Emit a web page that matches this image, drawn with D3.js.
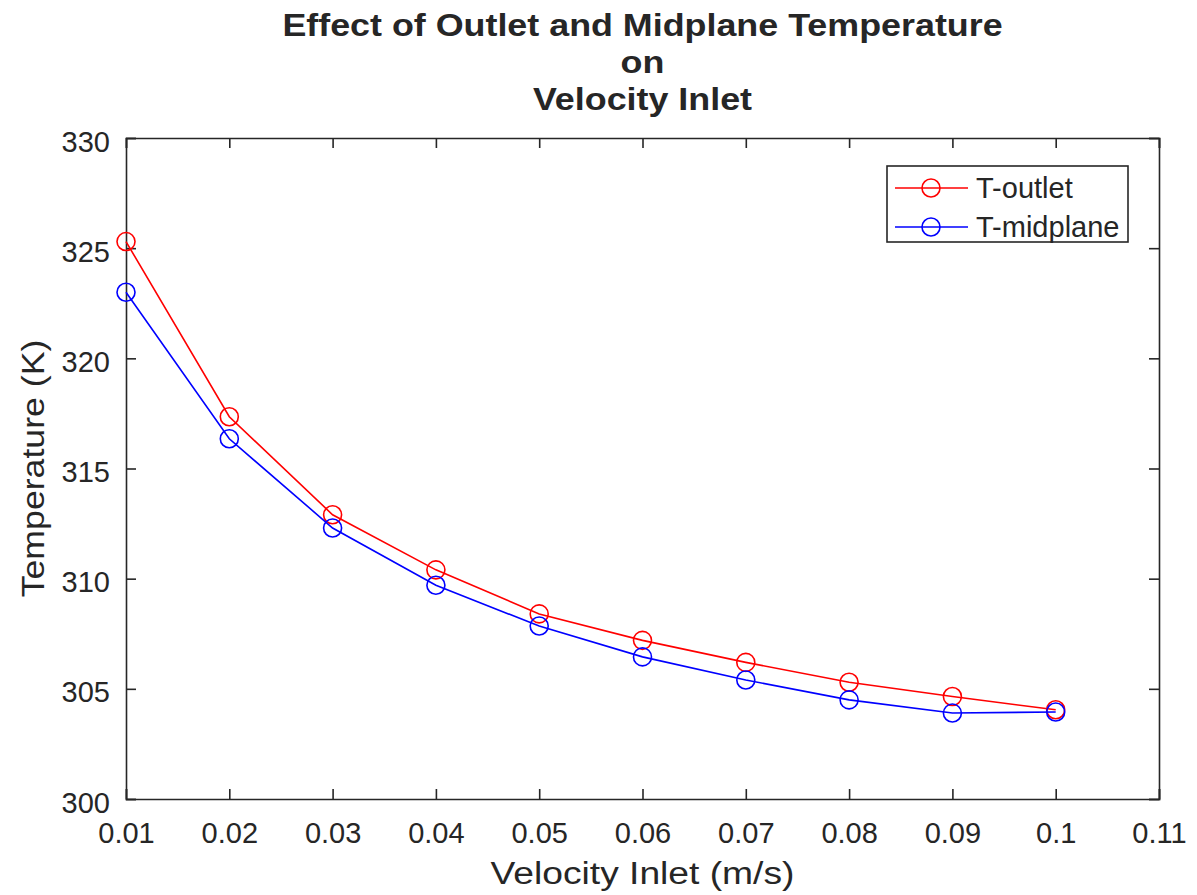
<!DOCTYPE html>
<html>
<head>
<meta charset="utf-8">
<script src="https://cdn.jsdelivr.net/npm/d3@7"></script>
<style>
  body { margin: 0; background: #fff; }
  svg text { font-family: "Liberation Sans", Arial, Helvetica, sans-serif; fill: #262626; }
</style>
</head>
<body>
<svg id="chart" width="1197" height="895"></svg>
<script>
// Values.
const velocity = [0.01, 0.02, 0.03, 0.04, 0.05, 0.06, 0.07, 0.08, 0.09, 0.1];
const tOutlet = [325.3, 317.35, 312.9, 310.4, 308.4, 307.2, 306.2, 305.3, 304.65, 304.05];
const tMidplane = [323.0, 316.35, 312.3, 309.7, 307.85, 306.45, 305.4, 304.5, 303.9, 303.95];
const xTicks = [0.01, 0.02, 0.03, 0.04, 0.05, 0.06, 0.07, 0.08, 0.09, 0.1, 0.11];
const yTicks = [300, 305, 310, 315, 320, 325, 330];
const titleLines = ["Effect of Outlet and Midplane Temperature", "on", "Velocity Inlet"];

const series = [
    {name: "T-outlet", values: tOutlet, color: "#ff0000"},
    {name: "T-midplane", values: tMidplane, color: "#0000ff"}
];

// Plot box.
const box = {left: 126, right: 1159, top: 138, bottom: 799};

let svg = d3.select("#chart");

let x = d3.scaleLinear().domain([0.01, 0.11]).range([box.left, box.right]);
let y = d3.scaleLinear().domain([300, 330]).range([box.bottom, box.top]);

const axisColor = "#262626";
const tickLen = 10;

// The picture's text runs a bit wider than the font here, so stretch it.
function stretch(sel, k) {
    sel.each(function() {
        let len = this.getComputedTextLength();
        d3.select(this)
            .attr("textLength", len * k)
            .attr("lengthAdjust", "spacingAndGlyphs");
    });
}

// Axes, MATLAB style: ticks inside, box on all four sides.
let xAxis = svg.append("g")
    .attr("transform", `translate(0,${box.bottom})`)
    .call(d3.axisBottom(x).tickValues(xTicks).tickSize(-tickLen).tickPadding(tickLen + 13)
        .tickFormat(d => d3.format("")(+d.toFixed(2))));
let yAxis = svg.append("g")
    .attr("transform", `translate(${box.left},0)`)
    .call(d3.axisLeft(y).tickValues(yTicks).tickSize(-tickLen).tickPadding(tickLen + 6));
let xTop = svg.append("g")
    .attr("transform", `translate(0,${box.top})`)
    .call(d3.axisTop(x).tickValues(xTicks).tickSize(-tickLen).tickFormat(""));
let yRight = svg.append("g")
    .attr("transform", `translate(${box.right},0)`)
    .call(d3.axisRight(y).tickValues(yTicks).tickSize(-tickLen).tickFormat(""));

[xAxis, yAxis, xTop, yRight].forEach(g => {
    g.select(".domain").attr("stroke", axisColor).attr("stroke-width", 1.6);
    g.selectAll(".tick line").attr("stroke", axisColor).attr("stroke-width", 1.6);
    g.selectAll(".tick text").attr("font-size", 29).attr("fill", axisColor);
});
yAxis.selectAll(".tick text").attr("dy", "0.45em");

// Lines and open circle markers.
let line = d3.line()
    .x((d, i) => x(velocity[i]))
    .y(d => y(d));

series.forEach(s => {
    let g = svg.append("g");
    g.append("path")
        .attr("d", line(s.values))
        .attr("fill", "none")
        .attr("stroke", s.color)
        .attr("stroke-width", 1.6);
    g.selectAll("circle")
        .data(s.values)
        .enter().append("circle")
        .attr("cx", (d, i) => x(velocity[i]))
        .attr("cy", d => y(d))
        .attr("r", 9)
        .attr("fill", "none")
        .attr("stroke", s.color)
        .attr("stroke-width", 1.6);
});

// Legend in the top right corner.
let legend = svg.append("g").attr("transform", "translate(887,166)");
legend.append("rect")
    .attr("width", 241).attr("height", 76)
    .attr("fill", "#fff")
    .attr("stroke", axisColor).attr("stroke-width", 1.6);
series.forEach((s, i) => {
    let row = legend.append("g").attr("transform", `translate(0,${22 + i * 39})`);
    row.append("line")
        .attr("x1", 8).attr("x2", 81)
        .attr("stroke", s.color).attr("stroke-width", 1.6);
    row.append("circle")
        .attr("cx", 44).attr("r", 9)
        .attr("fill", "none").attr("stroke", s.color).attr("stroke-width", 1.6);
    row.append("text")
        .attr("x", 89).attr("dy", "0.35em")
        .attr("font-size", 29)
        .text(s.name);
});

// Title and axis labels.
svg.append("g").selectAll("text")
    .data(titleLines)
    .enter().append("text")
    .attr("x", (box.left + box.right) / 2)
    .attr("y", (d, i) => 36 + i * 37)
    .attr("text-anchor", "middle")
    .attr("font-weight", "bold")
    .attr("font-size", 32)
    .attr("fill", "#000")
    .text(d => d)
    .call(stretch, 1.12);

svg.append("text")
    .attr("x", (box.left + box.right) / 2)
    .attr("y", 884)
    .attr("text-anchor", "middle")
    .attr("font-size", 31)
    .text("Velocity Inlet (m/s)")
    .call(stretch, 1.2);

svg.append("text")
    .attr("transform", `translate(44,${(box.top + box.bottom) / 2}) rotate(-90)`)
    .attr("text-anchor", "middle")
    .attr("font-size", 31)
    .text("Temperature (K)")
    .call(stretch, 1.15);
</script>
</body>
</html>
